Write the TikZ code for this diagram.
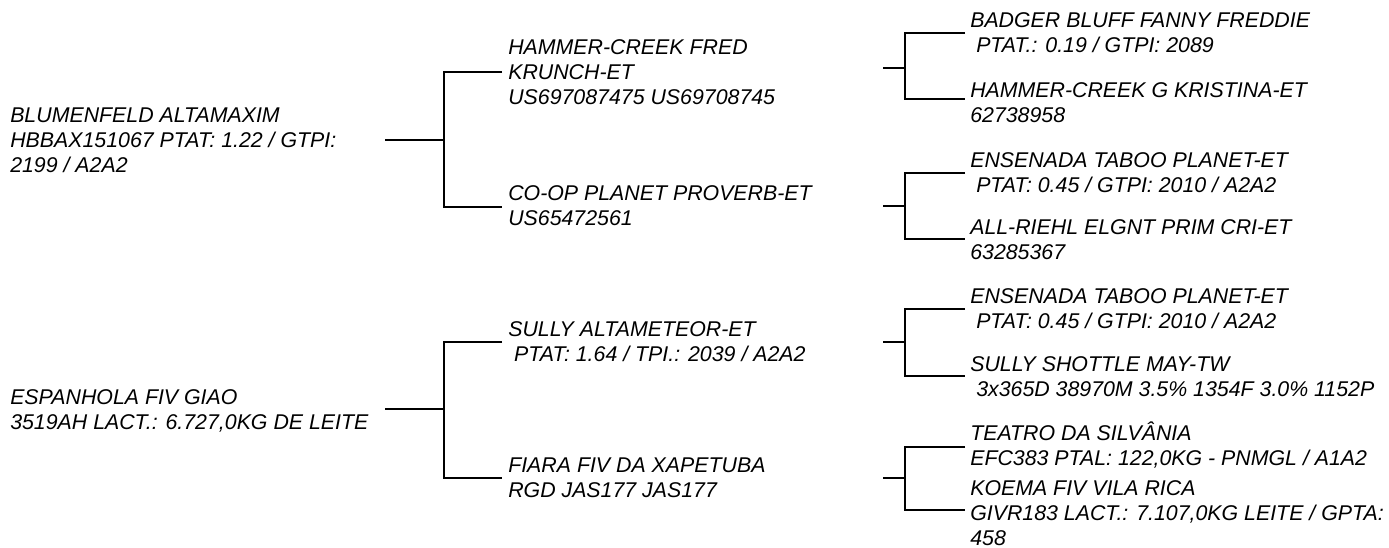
\documentclass[tikz,border=0pt]{standalone}
\usepackage{fontspec}
\setmainfont{Liberation Sans}
\tikzset{animal/.style={anchor=base west,inner sep=0,align=left,font=\fontsize{16}{18.75}\selectfont\itshape},tree/.style={line width=2pt}}
\newcommand{\lsp}{\hspace*{.28em}}

\begin{document}
\begin{tikzpicture}[x=0.75pt,y=-0.75pt]
\useasboundingbox(0,0)rectangle(1389,547);
\begin{scope}[animal]
\node(s)at(10,172){BLUMENFELD ALTAMAXIM\\HBBAX151067 PTAT: 1.22 / GTPI:\\2199 / A2A2};
\node(d)at(10,429){ESPANHOLA FIV GIAO\\3519AH LACT.: 6.727,0KG DE LEITE};
\node(ss)at(508,104){HAMMER-CREEK FRED\\KRUNCH-ET\\US697087475 US69708745};
\node(sd)at(508,225){CO-OP PLANET PROVERB-ET\\US65472561};
\node(ds)at(508,361){SULLY ALTAMETEOR-ET\\\lsp PTAT: 1.64 / TPI.: 2039 / A2A2};
\node(dd)at(508,497){FIARA FIV DA XAPETUBA\\RGD JAS177 JAS177};
\node(sss)at(970,52){BADGER BLUFF FANNY FREDDIE\\\lsp PTAT.: 0.19 / GTPI: 2089};
\node(ssd)at(970,122){HAMMER-CREEK G KRISTINA-ET\\62738958};
\node(sds)at(970,192){ENSENADA TABOO PLANET-ET\\\lsp PTAT: 0.45 / GTPI: 2010 / A2A2};
\node(sdd)at(970,259){ALL-RIEHL ELGNT PRIM CRI-ET\\63285367};
\node(dss)at(970,328){ENSENADA TABOO PLANET-ET\\\lsp PTAT: 0.45 / GTPI: 2010 / A2A2};
\node(dsd)at(970,396){SULLY SHOTTLE MAY-TW\\\lsp 3x365D 38970M 3.5\% 1354F 3.0\% 1152P};
\node(dds)at(970,465){TEATRO DA SILVÂNIA\\EFC383 PTAL: 122,0KG - PNMGL / A1A2};
\node(ddd)at(970,545){KOEMA FIV VILA RICA\\GIVR183 LACT.: 7.107,0KG LEITE / GPTA:\\458};
\end{scope}
\coordinate(s-o)at(385,140);\coordinate(s-j)at(444,140);\coordinate(ss-i)at(502,72);\coordinate(sd-i)at(502,207);
\coordinate(d-o)at(385,409);\coordinate(d-j)at(444,409);\coordinate(ds-i)at(502,342);\coordinate(dd-i)at(502,478);
\coordinate(ss-o)at(883,68);\coordinate(ss-j)at(905,68);\coordinate(sss-i)at(965,33);\coordinate(ssd-i)at(965,99);
\coordinate(sd-o)at(883,206);\coordinate(sd-j)at(905,206);\coordinate(sds-i)at(965,173);\coordinate(sdd-i)at(965,239);
\coordinate(ds-o)at(883,342);\coordinate(ds-j)at(905,342);\coordinate(dss-i)at(965,309);\coordinate(dsd-i)at(965,376);
\coordinate(dd-o)at(883,478);\coordinate(dd-j)at(905,478);\coordinate(dds-i)at(965,447);\coordinate(ddd-i)at(965,510);
\draw[tree](s-o)--(s-j)(ss-i)-|(s-j)|-(sd-i);\draw[tree](d-o)--(d-j)(ds-i)-|(d-j)|-(dd-i);
\draw[tree](ss-o)--(ss-j)(sss-i)-|(ss-j)|-(ssd-i);\draw[tree](sd-o)--(sd-j)(sds-i)-|(sd-j)|-(sdd-i);
\draw[tree](ds-o)--(ds-j)(dss-i)-|(ds-j)|-(dsd-i);\draw[tree](dd-o)--(dd-j)(dds-i)-|(dd-j)|-(ddd-i);
\end{tikzpicture}
\end{document}
